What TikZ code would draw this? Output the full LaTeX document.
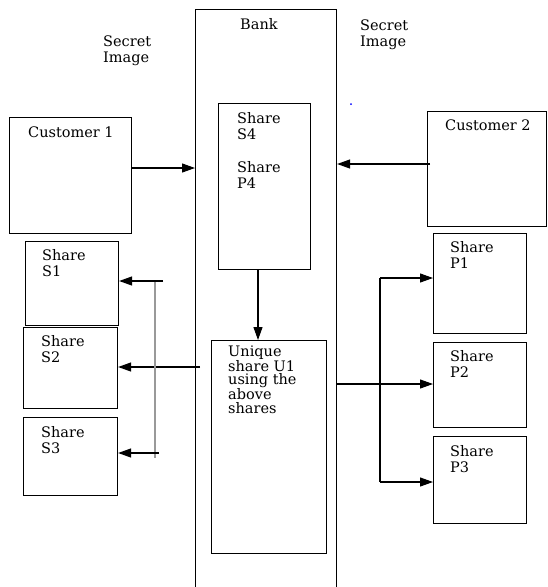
\documentclass[tikz,border=0pt]{standalone}
\usepackage{fontspec}
\setmainfont{DejaVu Serif}
\usetikzlibrary{arrows.meta}
\begin{document}
\begin{tikzpicture}[x=1pt,y=-1pt,
  box/.style 2 args={draw, line width=1.1pt, inner sep=0pt, anchor=north west, minimum width=#1, minimum height=#2},
  lbl/.style={inner sep=0pt, anchor=base west, align=left, font=\fontsize{14.5}{15.5}\selectfont},
  arr/.style={line width=1.1pt, -{Triangle[length=13pt,width=9pt]}},
  bus/.style={line width=1.1pt}
]
\useasboundingbox (0,0) rectangle (547,587);
% boxes
\node[box={141pt}{600pt}] (bank) at (195,9) {};
\node[box={122pt}{116pt}] (c1) at (9,117) {};
\node[box={92pt}{166pt}] (s4) at (218,103) {};
\node[box={119pt}{115pt}] (c2) at (427,111) {};
\node[box={93pt}{84pt}] (s1) at (25,241) {};
\node[box={94pt}{81pt}] (s2) at (23,327) {};
\node[box={94pt}{78pt}] (s3) at (23,417) {};
\node[box={115pt}{213pt}] (u1) at (211,340) {};
\node[box={93pt}{100pt}] (p1) at (433,233) {};
\node[box={93pt}{85pt}] (p2) at (433,342) {};
\node[box={93pt}{87pt}] (p3) at (433,436) {};
% texts (base = baseline of last line)
\node[lbl] (tbank) at (240,29) {Bank};
\node[lbl] (tsl) at (103,62) {Secret\\Image};
\node[lbl] (tsr) at (360,46) {Secret\\Image};
\node[lbl] (tc1) at (28,137) {Customer 1};
\node[lbl] (tc2) at (445,130) {Customer 2};
\node[lbl] (ts4) at (237,139) {Share\\S4};
\node[lbl] (tp4) at (237,188) {Share\\P4};
\node[lbl] (ts1) at (42,276) {Share\\S1};
\node[lbl] (ts2) at (41,362) {Share\\S2};
\node[lbl] (ts3) at (41,453) {Share\\S3};
\node[lbl] (tp1) at (450,268) {Share\\P1};
\node[lbl] (tp2) at (450,377) {Share\\P2};
\node[lbl] (tp3) at (450,472) {Share\\P3};
\node[lbl, font=\fontsize{14.5}{13.2}\selectfont] (tu1) at (228,413) {Unique\\share U1\\using the\\above\\shares};
\node[circle, fill=blue, inner sep=0pt, minimum size=2pt] (dot) at (351,104) {};
% connectors
\coordinate (a1) at (131,168);
\draw[arr] (a1) -- (a1 -| bank.west);
\coordinate (a2) at (430,164);
\draw[arr] (a2) -- (a2 -| bank.east);
\coordinate (a3) at (258,269);
\draw[arr] (a3) -- (a3 |- u1.north);
\coordinate (a4) at (200,367);
\draw[arr] (a4) -- (a4 -| s2.east);
\coordinate (lt) at (155,280);
\coordinate (lb) at (155,458);
\draw[bus, gray!80] (lt) -- (lb);
\coordinate (l1) at (163,281);
\draw[arr] (l1) -- (l1 -| s1.east);
\coordinate (l2) at (159,453);
\draw[arr] (l2) -- (l2 -| s3.east);
\coordinate (a5) at (336,384);
\draw[arr] (a5) -- (a5 -| p2.west);
\coordinate (r1) at (380,278);
\coordinate (r2) at (380,482);
\draw[bus] (r1) -- (r2);
\draw[arr] (r1) -- (r1 -| p1.west);
\draw[arr] (r2) -- (r2 -| p3.west);
\end{tikzpicture}
\end{document}
